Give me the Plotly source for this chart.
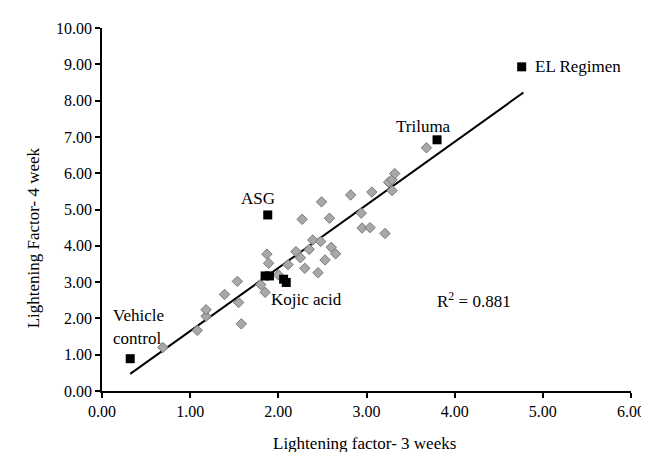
import plotly.graph_objects as go

# grey diamonds: other treatments
other_x = [0.69, 1.08, 1.18, 1.18, 1.39, 1.535, 1.55, 1.58, 1.80, 1.85, 1.87, 1.89, 2.00,
           2.11, 2.20, 2.25, 2.27, 2.30, 2.35, 2.39, 2.45, 2.48, 2.49, 2.53, 2.58, 2.60,
           2.65, 2.82, 2.94, 2.95, 3.04, 3.06, 3.21, 3.25, 3.29, 3.29, 3.32, 3.68]
other_y = [1.20, 1.67, 2.06, 2.24, 2.66, 3.02, 2.44, 1.85, 2.93, 2.72, 3.77, 3.52, 3.20,
           3.48, 3.84, 3.67, 4.73, 3.38, 3.90, 4.16, 3.26, 4.12, 5.21, 3.61, 4.76, 3.96,
           3.78, 5.40, 4.90, 4.49, 4.50, 5.48, 4.34, 5.75, 5.82, 5.52, 5.99, 6.70]

# black squares: named treatments
named_x = [0.32, 1.88, 1.85, 1.90, 2.06, 2.09, 3.80, 4.76]
named_y = [0.89, 4.85, 3.17, 3.17, 3.08, 2.99, 6.92, 8.93]

# trend line
trend_x = [0.32, 4.78]
slope = 1.738
intercept = -0.086
r2_text = "R<sup>2</sup> = 0.881"

x_ticks = [0, 1, 2, 3, 4, 5, 6]
y_ticks = [0, 1, 2, 3, 4, 5, 6, 7, 8, 9, 10]

FONT = "Liberation Serif, Times New Roman, serif"
W, H = 649, 452
L, R, T, B = 94, 22, 18, 69

fig = go.Figure()
fig.add_trace(go.Scatter(
    x=trend_x, y=[slope * v + intercept for v in trend_x], mode="lines",
    line=dict(color="black", width=2), showlegend=False, hoverinfo="skip"))
fig.add_trace(go.Scatter(
    x=other_x, y=other_y, mode="markers",
    marker=dict(symbol="diamond", size=8, color="#a8a8a8",
                line=dict(color="#7a7a7a", width=1)),
    showlegend=False))
fig.add_trace(go.Scatter(
    x=named_x, y=named_y, mode="markers",
    marker=dict(symbol="square", size=9, color="black",
                line=dict(color="black", width=0)),
    showlegend=False))

labels = [
    ("EL Regimen", 4.89, 8.93, "left"),
    ("Triluma", 3.65, 7.30, "center"),
    ("ASG", 1.77, 5.29, "center"),
    ("Kojic acid", 2.32, 2.53, "center"),
    ("Vehicle", 0.41, 2.08, "center"),
    ("control", 0.40, 1.45, "center"),
    (r2_text, 4.22, 2.50, "center"),
]
for text, lx, ly, anchor in labels:
    fig.add_annotation(x=lx, y=ly, text=text, showarrow=False, xanchor=anchor,
                       yanchor="middle", font=dict(family=FONT, size=17, color="black"))

pw, ph = W - L - R, H - T - B


def px_to_paper(px, py):
    return (px - L) / pw, (H - B - py) / ph


tx, ty = px_to_paper(358, 436)
fig.add_annotation(x=tx, y=ty, xref="paper", yref="paper", text="Lightening factor- 3 weeks",
                   showarrow=False, xanchor="center", yanchor="middle",
                   font=dict(family=FONT, size=17, color="black"))
yx, yy = px_to_paper(25, 229)
fig.add_annotation(x=yx, y=yy, xref="paper", yref="paper", text="Lightening Factor- 4 week",
                   showarrow=False, xanchor="center", yanchor="middle", textangle=-90,
                   font=dict(family=FONT, size=17, color="black"))

axis_common = dict(showgrid=False, zeroline=False, showline=True, linecolor="black",
                   linewidth=1.5, ticks="outside", ticklen=5, tickcolor="black",
                   tickwidth=1.5, tickfont=dict(family=FONT, size=16, color="black"))

fig.update_layout(
    width=W, height=H,
    margin=dict(l=L, r=R, t=T, b=B),
    paper_bgcolor="white", plot_bgcolor="white",
    xaxis=dict(range=[0, 6], tickvals=x_ticks,
               ticktext=[f"{v:.2f}" for v in x_ticks], **axis_common),
    yaxis=dict(range=[0, 10], tickvals=y_ticks,
               ticktext=[f"{v:.2f}" for v in y_ticks], **axis_common),
)

fig.write_html("out.html")
